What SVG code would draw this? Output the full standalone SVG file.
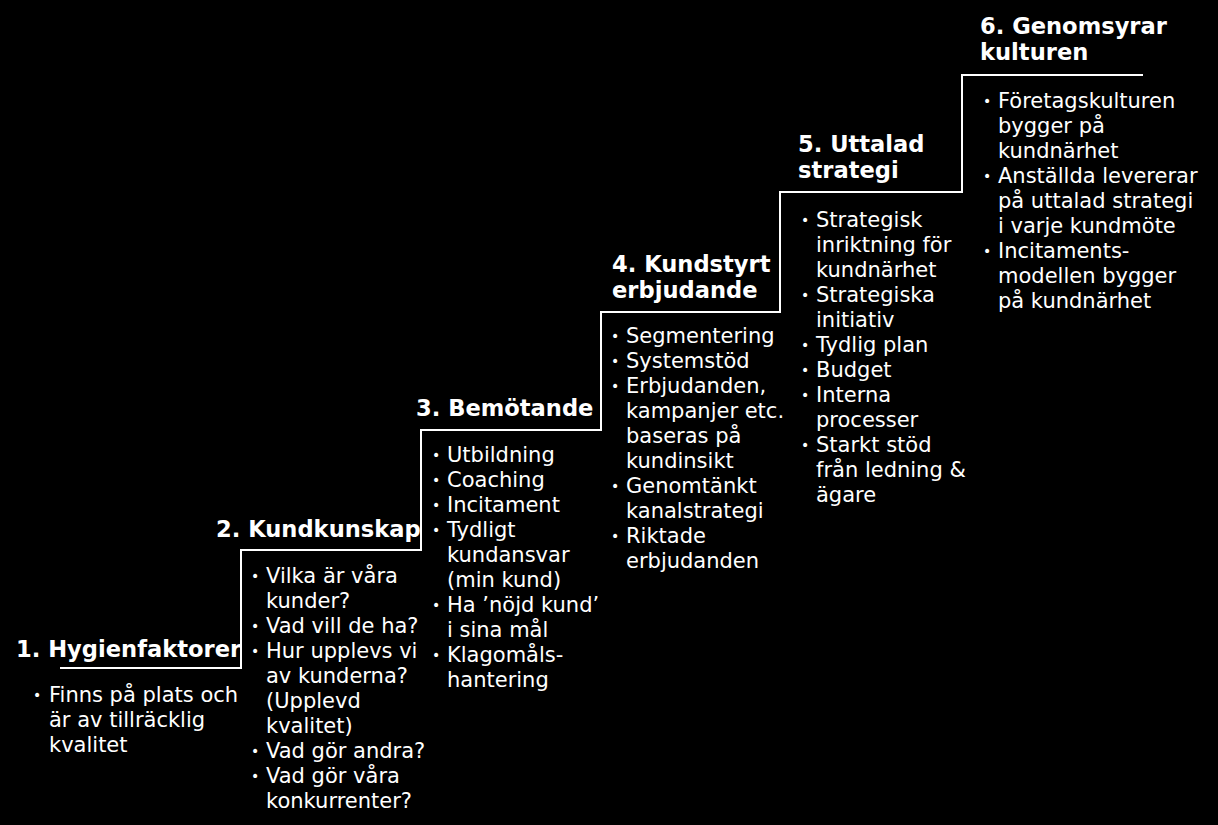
<svg xmlns="http://www.w3.org/2000/svg" width="1218" height="825" viewBox="0 0 1218 825">
<style>
text{font-family:"DejaVu Sans","Verdana",sans-serif;fill:#ffffff}
.t{font-weight:bold;font-size:22.6px}
.b{font-size:21px}
.d{font-size:14px}
.stair{fill:none;stroke:#ffffff;stroke-width:2}
</style>
<rect x="0" y="0" width="1218" height="825" fill="#000000"/>
<g id="connectors">
<path class="stair" d="M60 668 H241 V550 H421 V430 H601 V312 H780 V192 H962 V75 H1143"/>
</g>
<g id="step1">
<text class="t" x="16" y="657">1. Hygienfaktorer</text>
<text class="d" x="33" y="700">•</text>
<text class="b" x="49" y="702">Finns på plats och</text>
<text class="b" x="49" y="727">är av tillräcklig</text>
<text class="b" x="49" y="752">kvalitet</text>
</g>
<g id="step2">
<text class="t" x="216" y="537">2. Kundkunskap</text>
<text class="d" x="251" y="581">•</text>
<text class="d" x="251" y="631">•</text>
<text class="d" x="251" y="656">•</text>
<text class="d" x="251" y="756">•</text>
<text class="d" x="251" y="781">•</text>
<text class="b" x="266" y="583">Vilka är våra</text>
<text class="b" x="266" y="608">kunder?</text>
<text class="b" x="266" y="633">Vad vill de ha?</text>
<text class="b" x="266" y="658">Hur upplevs vi</text>
<text class="b" x="266" y="683">av kunderna?</text>
<text class="b" x="266" y="708">(Upplevd</text>
<text class="b" x="266" y="733">kvalitet)</text>
<text class="b" x="266" y="758">Vad gör andra?</text>
<text class="b" x="266" y="783">Vad gör våra</text>
<text class="b" x="266" y="808">konkurrenter?</text>
</g>
<g id="step3">
<text class="t" x="416" y="416">3. Bemötande</text>
<text class="d" x="432" y="460">•</text>
<text class="d" x="432" y="485">•</text>
<text class="d" x="432" y="510">•</text>
<text class="d" x="432" y="535">•</text>
<text class="d" x="432" y="610">•</text>
<text class="d" x="432" y="660">•</text>
<text class="b" x="447" y="462">Utbildning</text>
<text class="b" x="447" y="487">Coaching</text>
<text class="b" x="447" y="512">Incitament</text>
<text class="b" x="447" y="537">Tydligt</text>
<text class="b" x="447" y="562">kundansvar</text>
<text class="b" x="447" y="587">(min kund)</text>
<text class="b" x="447" y="612">Ha ’nöjd kund’</text>
<text class="b" x="447" y="637">i sina mål</text>
<text class="b" x="447" y="662">Klagomåls-</text>
<text class="b" x="447" y="687">hantering</text>
</g>
<g id="step4">
<text class="t" x="612" y="272">4. Kundstyrt</text>
<text class="t" x="612" y="298">erbjudande</text>
<text class="d" x="611" y="341">•</text>
<text class="d" x="611" y="366">•</text>
<text class="d" x="611" y="391">•</text>
<text class="d" x="611" y="491">•</text>
<text class="d" x="611" y="541">•</text>
<text class="b" x="626" y="343">Segmentering</text>
<text class="b" x="626" y="368">Systemstöd</text>
<text class="b" x="626" y="393">Erbjudanden,</text>
<text class="b" x="626" y="418">kampanjer etc.</text>
<text class="b" x="626" y="443">baseras på</text>
<text class="b" x="626" y="468">kundinsikt</text>
<text class="b" x="626" y="493">Genomtänkt</text>
<text class="b" x="626" y="518">kanalstrategi</text>
<text class="b" x="626" y="543">Riktade</text>
<text class="b" x="626" y="568">erbjudanden</text>
</g>
<g id="step5">
<text class="t" x="798" y="152">5. Uttalad</text>
<text class="t" x="798" y="178">strategi</text>
<text class="d" x="801" y="225">•</text>
<text class="d" x="801" y="300">•</text>
<text class="d" x="801" y="350">•</text>
<text class="d" x="801" y="375">•</text>
<text class="d" x="801" y="400">•</text>
<text class="d" x="801" y="450">•</text>
<text class="b" x="816" y="227">Strategisk</text>
<text class="b" x="816" y="252">inriktning för</text>
<text class="b" x="816" y="277">kundnärhet</text>
<text class="b" x="816" y="302">Strategiska</text>
<text class="b" x="816" y="327">initiativ</text>
<text class="b" x="816" y="352">Tydlig plan</text>
<text class="b" x="816" y="377">Budget</text>
<text class="b" x="816" y="402">Interna</text>
<text class="b" x="816" y="427">processer</text>
<text class="b" x="816" y="452">Starkt stöd</text>
<text class="b" x="816" y="477">från ledning &amp;</text>
<text class="b" x="816" y="502">ägare</text>
</g>
<g id="step6">
<text class="t" x="980" y="34">6. Genomsyrar</text>
<text class="t" x="980" y="60">kulturen</text>
<text class="d" x="983" y="106">•</text>
<text class="d" x="983" y="181">•</text>
<text class="d" x="983" y="256">•</text>
<text class="b" x="998" y="108">Företagskulturen</text>
<text class="b" x="998" y="133">bygger på</text>
<text class="b" x="998" y="158">kundnärhet</text>
<text class="b" x="998" y="183">Anställda levererar</text>
<text class="b" x="998" y="208">på uttalad strategi</text>
<text class="b" x="998" y="233">i varje kundmöte</text>
<text class="b" x="998" y="258">Incitaments-</text>
<text class="b" x="998" y="283">modellen bygger</text>
<text class="b" x="998" y="308">på kundnärhet</text>
</g>
</svg>
